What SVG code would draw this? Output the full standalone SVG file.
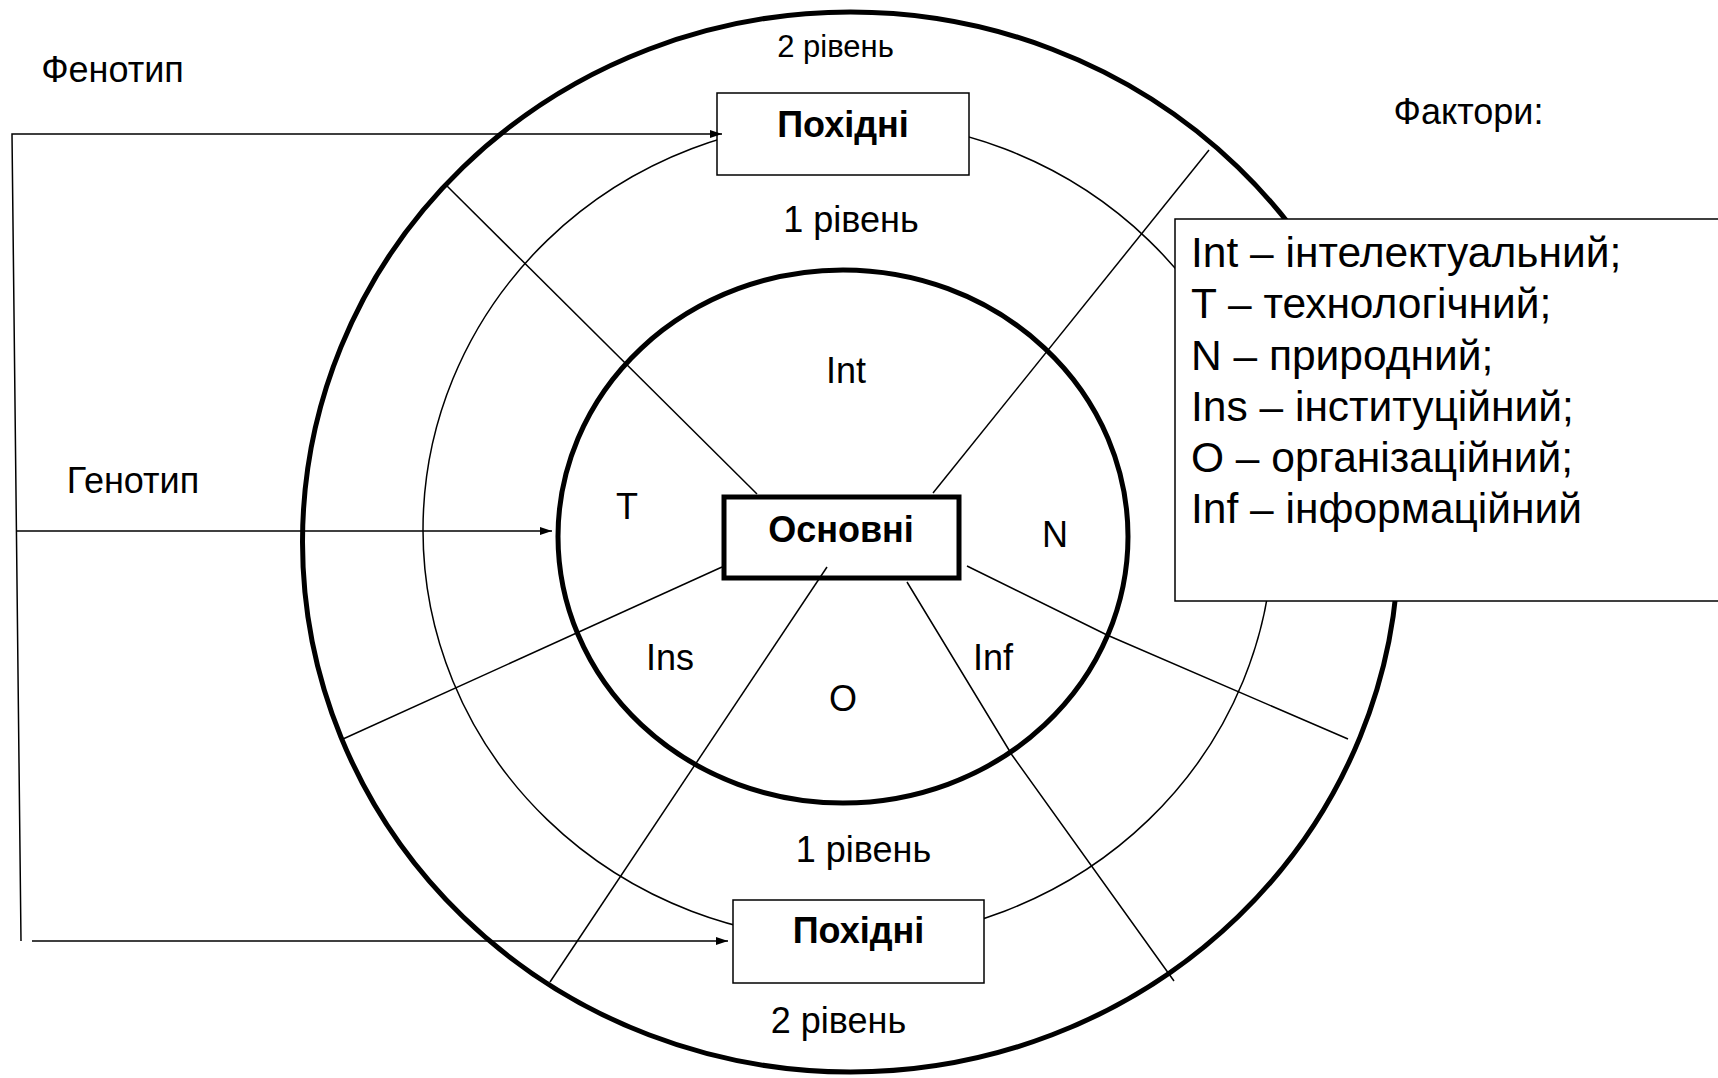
<svg xmlns="http://www.w3.org/2000/svg" width="1718" height="1078" viewBox="0 0 1718 1078">
<style>
text{font-family:"Liberation Sans",Arial,sans-serif;fill:#000}
.lbl{font-size:36px;text-anchor:middle}
.b{font-weight:bold}
.thin{fill:none;stroke:#000;stroke-width:1.5}
.thick{fill:none;stroke:#000;stroke-width:5}
.box{fill:#fff;stroke:#000;stroke-width:1.5}
.leg{font-size:42.5px}
</style>
<defs>
<marker id="ah" markerUnits="userSpaceOnUse" markerWidth="12" markerHeight="8" refX="12" refY="4" orient="auto">
<path d="M0,0 L12,4 L0,8 z" fill="#000"/>
</marker>
</defs>
<rect width="1718" height="1078" fill="#fff"/>
<g id="rings">
<ellipse id="outer" class="thick" cx="850.5" cy="542" rx="548" ry="530"/>
<ellipse id="middle" class="thin" cx="848" cy="530" rx="425" ry="410"/>
<ellipse id="inner" class="thick" cx="843" cy="536.5" rx="285" ry="266.5"/>
</g>
<g id="node-pokhidni-top">
<rect class="box" x="717" y="93" width="252" height="82"/>
<text class="lbl b" x="843" y="137">Похідні</text>
</g>
<g id="node-pokhidni-bottom">
<rect class="box" x="733" y="900" width="251" height="83"/>
<text class="lbl b" x="858.5" y="943">Похідні</text>
</g>
<g id="node-osnovni">
<rect x="724" y="497" width="235" height="81" fill="#fff" stroke="#000" stroke-width="5"/>
<text class="lbl b" x="841" y="542">Основні</text>
</g>
<g id="dividers">
<line class="thin" x1="757" y1="494" x2="447" y2="186"/>
<line class="thin" x1="933" y1="493" x2="1209" y2="150"/>
<polyline class="thin" points="967,566 1107,635 1348,739"/>
<polyline class="thin" points="907,582 1012,755 1174,981"/>
<line class="thin" x1="827" y1="567" x2="550" y2="982"/>
<line class="thin" x1="722" y1="567" x2="343" y2="739"/>
</g>
<g id="connectors">
<polyline class="thin" points="21,941 12,134 722,134" marker-end="url(#ah)"/>
<line class="thin" x1="16" y1="531" x2="552" y2="531" marker-end="url(#ah)"/>
<line class="thin" x1="32" y1="941" x2="728" y2="941" marker-end="url(#ah)"/>
</g>
<g id="node-legend">
<rect class="box" x="1175" y="219" width="560" height="382"/>
<text class="leg" x="1191" y="267">Int – інтелектуальний;</text>
<text class="leg" x="1191" y="318">T – технологічний;</text>
<text class="leg" x="1191" y="370">N – природний;</text>
<text class="leg" x="1191" y="421">Ins – інституційний;</text>
<text class="leg" x="1191" y="472">O – організаційний;</text>
<text class="leg" x="1191" y="523">Inf – інформаційний</text>
</g>
<g id="labels">
<text class="lbl" x="835.5" y="57" style="font-size:31px">2 рівень</text>
<text class="lbl" x="851" y="232">1 рівень</text>
<text class="lbl" x="863.5" y="862">1 рівень</text>
<text class="lbl" x="838.5" y="1033">2 рівень</text>
<text class="lbl" x="112.5" y="82">Фенотип</text>
<text class="lbl" x="133" y="493">Генотип</text>
<text class="lbl" x="1468.5" y="124">Фактори:</text>
<text class="lbl" x="846" y="383">Int</text>
<text class="lbl" x="627" y="519">T</text>
<text class="lbl" x="1055" y="547">N</text>
<text class="lbl" x="670" y="670">Ins</text>
<text class="lbl" x="993" y="670">Inf</text>
<text class="lbl" x="843" y="711">O</text>
</g>
</svg>
